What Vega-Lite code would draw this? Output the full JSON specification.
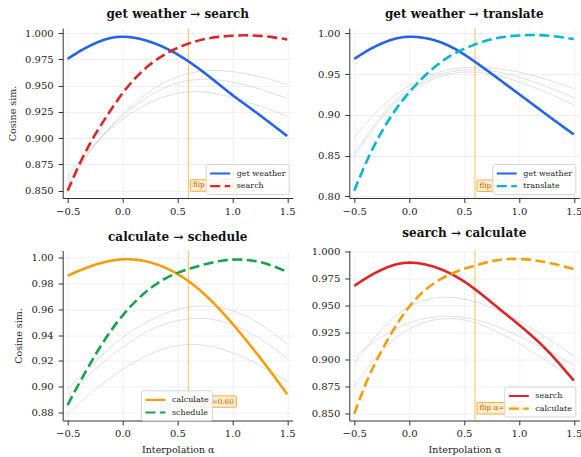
{
 "$schema": "https://vega.github.io/schema/vega-lite/v6.json",
 "autosize": {"type": "none"},
 "padding": {"left": 62.7, "top": 28, "right": 518.3, "bottom": 429},
 "background": "white",
 "datasets": {
  "flips": [
   {"panel": "p1", "alpha": 0.6, "sim": 0.855, "label": "flip α=0.60"},
   {"panel": "p2", "alpha": 0.6, "sim": 0.813, "label": "flip α=0.60"},
   {"panel": "p3", "alpha": 0.6, "sim": 0.8884, "label": "flip α=0.60"},
   {"panel": "p4", "alpha": 0.6, "sim": 0.855, "label": "flip α=0.60"}
  ],
  "curves": [
   {"panel":"p1","kind":"main","series":"get weather","alpha":-0.5,"sim":0.9755},
   {"panel":"p1","kind":"main","series":"get weather","alpha":-0.375,"sim":0.9838},
   {"panel":"p1","kind":"main","series":"get weather","alpha":-0.25,"sim":0.9905},
   {"panel":"p1","kind":"main","series":"get weather","alpha":-0.125,"sim":0.9955},
   {"panel":"p1","kind":"main","series":"get weather","alpha":0,"sim":0.997},
   {"panel":"p1","kind":"main","series":"get weather","alpha":0.125,"sim":0.9955},
   {"panel":"p1","kind":"main","series":"get weather","alpha":0.25,"sim":0.992},
   {"panel":"p1","kind":"main","series":"get weather","alpha":0.375,"sim":0.9868},
   {"panel":"p1","kind":"main","series":"get weather","alpha":0.5,"sim":0.980},
   {"panel":"p1","kind":"main","series":"get weather","alpha":0.625,"sim":0.9715},
   {"panel":"p1","kind":"main","series":"get weather","alpha":0.75,"sim":0.962},
   {"panel":"p1","kind":"main","series":"get weather","alpha":0.875,"sim":0.9515},
   {"panel":"p1","kind":"main","series":"get weather","alpha":1.0,"sim":0.941},
   {"panel":"p1","kind":"main","series":"get weather","alpha":1.125,"sim":0.9315},
   {"panel":"p1","kind":"main","series":"get weather","alpha":1.25,"sim":0.922},
   {"panel":"p1","kind":"main","series":"get weather","alpha":1.375,"sim":0.912},
   {"panel":"p1","kind":"main","series":"get weather","alpha":1.5,"sim":0.902},
   {"panel":"p1","kind":"main","series":"search","alpha":-0.5,"sim":0.850},
   {"panel":"p1","kind":"main","series":"search","alpha":-0.375,"sim":0.880},
   {"panel":"p1","kind":"main","series":"search","alpha":-0.25,"sim":0.904},
   {"panel":"p1","kind":"main","series":"search","alpha":-0.125,"sim":0.924},
   {"panel":"p1","kind":"main","series":"search","alpha":0,"sim":0.9435},
   {"panel":"p1","kind":"main","series":"search","alpha":0.125,"sim":0.9585},
   {"panel":"p1","kind":"main","series":"search","alpha":0.25,"sim":0.9705},
   {"panel":"p1","kind":"main","series":"search","alpha":0.375,"sim":0.9795},
   {"panel":"p1","kind":"main","series":"search","alpha":0.5,"sim":0.986},
   {"panel":"p1","kind":"main","series":"search","alpha":0.625,"sim":0.991},
   {"panel":"p1","kind":"main","series":"search","alpha":0.75,"sim":0.9945},
   {"panel":"p1","kind":"main","series":"search","alpha":0.875,"sim":0.9965},
   {"panel":"p1","kind":"main","series":"search","alpha":1.0,"sim":0.9975},
   {"panel":"p1","kind":"main","series":"search","alpha":1.125,"sim":0.998},
   {"panel":"p1","kind":"main","series":"search","alpha":1.25,"sim":0.9975},
   {"panel":"p1","kind":"main","series":"search","alpha":1.375,"sim":0.996},
   {"panel":"p1","kind":"main","series":"search","alpha":1.5,"sim":0.994},
   {"panel":"p1","kind":"other","series":"o1","alpha":-0.5,"sim":0.856},
   {"panel":"p1","kind":"other","series":"o1","alpha":-0.25,"sim":0.895},
   {"panel":"p1","kind":"other","series":"o1","alpha":0,"sim":0.924},
   {"panel":"p1","kind":"other","series":"o1","alpha":0.25,"sim":0.946},
   {"panel":"p1","kind":"other","series":"o1","alpha":0.5,"sim":0.960},
   {"panel":"p1","kind":"other","series":"o1","alpha":0.75,"sim":0.965},
   {"panel":"p1","kind":"other","series":"o1","alpha":1.0,"sim":0.964},
   {"panel":"p1","kind":"other","series":"o1","alpha":1.25,"sim":0.959},
   {"panel":"p1","kind":"other","series":"o1","alpha":1.5,"sim":0.951},
   {"panel":"p1","kind":"other","series":"o2","alpha":-0.5,"sim":0.859},
   {"panel":"p1","kind":"other","series":"o2","alpha":-0.25,"sim":0.896},
   {"panel":"p1","kind":"other","series":"o2","alpha":0,"sim":0.922},
   {"panel":"p1","kind":"other","series":"o2","alpha":0.25,"sim":0.942},
   {"panel":"p1","kind":"other","series":"o2","alpha":0.5,"sim":0.954},
   {"panel":"p1","kind":"other","series":"o2","alpha":0.75,"sim":0.957},
   {"panel":"p1","kind":"other","series":"o2","alpha":1.0,"sim":0.954},
   {"panel":"p1","kind":"other","series":"o2","alpha":1.25,"sim":0.947},
   {"panel":"p1","kind":"other","series":"o2","alpha":1.5,"sim":0.938},
   {"panel":"p1","kind":"other","series":"o3","alpha":-0.5,"sim":0.8636},
   {"panel":"p1","kind":"other","series":"o3","alpha":-0.25,"sim":0.897},
   {"panel":"p1","kind":"other","series":"o3","alpha":0,"sim":0.919},
   {"panel":"p1","kind":"other","series":"o3","alpha":0.25,"sim":0.935},
   {"panel":"p1","kind":"other","series":"o3","alpha":0.5,"sim":0.944},
   {"panel":"p1","kind":"other","series":"o3","alpha":0.75,"sim":0.945},
   {"panel":"p1","kind":"other","series":"o3","alpha":1.0,"sim":0.939},
   {"panel":"p1","kind":"other","series":"o3","alpha":1.25,"sim":0.931},
   {"panel":"p1","kind":"other","series":"o3","alpha":1.5,"sim":0.921},

   {"panel":"p2","kind":"main","series":"get weather","alpha":-0.5,"sim":0.9686},
   {"panel":"p2","kind":"main","series":"get weather","alpha":-0.375,"sim":0.9795},
   {"panel":"p2","kind":"main","series":"get weather","alpha":-0.25,"sim":0.9878},
   {"panel":"p2","kind":"main","series":"get weather","alpha":-0.125,"sim":0.9942},
   {"panel":"p2","kind":"main","series":"get weather","alpha":0,"sim":0.9963},
   {"panel":"p2","kind":"main","series":"get weather","alpha":0.125,"sim":0.995},
   {"panel":"p2","kind":"main","series":"get weather","alpha":0.25,"sim":0.9912},
   {"panel":"p2","kind":"main","series":"get weather","alpha":0.375,"sim":0.9843},
   {"panel":"p2","kind":"main","series":"get weather","alpha":0.5,"sim":0.9745},
   {"panel":"p2","kind":"main","series":"get weather","alpha":0.625,"sim":0.9628},
   {"panel":"p2","kind":"main","series":"get weather","alpha":0.75,"sim":0.9505},
   {"panel":"p2","kind":"main","series":"get weather","alpha":0.875,"sim":0.938},
   {"panel":"p2","kind":"main","series":"get weather","alpha":1.0,"sim":0.9255},
   {"panel":"p2","kind":"main","series":"get weather","alpha":1.125,"sim":0.913},
   {"panel":"p2","kind":"main","series":"get weather","alpha":1.25,"sim":0.9005},
   {"panel":"p2","kind":"main","series":"get weather","alpha":1.375,"sim":0.888},
   {"panel":"p2","kind":"main","series":"get weather","alpha":1.5,"sim":0.876},
   {"panel":"p2","kind":"main","series":"translate","alpha":-0.5,"sim":0.807},
   {"panel":"p2","kind":"main","series":"translate","alpha":-0.375,"sim":0.848},
   {"panel":"p2","kind":"main","series":"translate","alpha":-0.25,"sim":0.880},
   {"panel":"p2","kind":"main","series":"translate","alpha":-0.125,"sim":0.907},
   {"panel":"p2","kind":"main","series":"translate","alpha":0,"sim":0.928},
   {"panel":"p2","kind":"main","series":"translate","alpha":0.125,"sim":0.946},
   {"panel":"p2","kind":"main","series":"translate","alpha":0.25,"sim":0.961},
   {"panel":"p2","kind":"main","series":"translate","alpha":0.375,"sim":0.973},
   {"panel":"p2","kind":"main","series":"translate","alpha":0.5,"sim":0.981},
   {"panel":"p2","kind":"main","series":"translate","alpha":0.625,"sim":0.988},
   {"panel":"p2","kind":"main","series":"translate","alpha":0.75,"sim":0.993},
   {"panel":"p2","kind":"main","series":"translate","alpha":0.875,"sim":0.996},
   {"panel":"p2","kind":"main","series":"translate","alpha":1.0,"sim":0.9975},
   {"panel":"p2","kind":"main","series":"translate","alpha":1.125,"sim":0.998},
   {"panel":"p2","kind":"main","series":"translate","alpha":1.25,"sim":0.9975},
   {"panel":"p2","kind":"main","series":"translate","alpha":1.375,"sim":0.9955},
   {"panel":"p2","kind":"main","series":"translate","alpha":1.5,"sim":0.993},
   {"panel":"p2","kind":"other","series":"o1","alpha":-0.5,"sim":0.873},
   {"panel":"p2","kind":"other","series":"o1","alpha":-0.25,"sim":0.912},
   {"panel":"p2","kind":"other","series":"o1","alpha":0,"sim":0.938},
   {"panel":"p2","kind":"other","series":"o1","alpha":0.25,"sim":0.953},
   {"panel":"p2","kind":"other","series":"o1","alpha":0.5,"sim":0.959},
   {"panel":"p2","kind":"other","series":"o1","alpha":0.75,"sim":0.958},
   {"panel":"p2","kind":"other","series":"o1","alpha":1.0,"sim":0.953},
   {"panel":"p2","kind":"other","series":"o1","alpha":1.25,"sim":0.944},
   {"panel":"p2","kind":"other","series":"o1","alpha":1.5,"sim":0.932},
   {"panel":"p2","kind":"other","series":"o2","alpha":-0.5,"sim":0.853},
   {"panel":"p2","kind":"other","series":"o2","alpha":-0.25,"sim":0.902},
   {"panel":"p2","kind":"other","series":"o2","alpha":0,"sim":0.934},
   {"panel":"p2","kind":"other","series":"o2","alpha":0.25,"sim":0.950},
   {"panel":"p2","kind":"other","series":"o2","alpha":0.5,"sim":0.956},
   {"panel":"p2","kind":"other","series":"o2","alpha":0.75,"sim":0.955},
   {"panel":"p2","kind":"other","series":"o2","alpha":1.0,"sim":0.947},
   {"panel":"p2","kind":"other","series":"o2","alpha":1.25,"sim":0.935},
   {"panel":"p2","kind":"other","series":"o2","alpha":1.5,"sim":0.921},
   {"panel":"p2","kind":"other","series":"o3","alpha":-0.5,"sim":0.849},
   {"panel":"p2","kind":"other","series":"o3","alpha":-0.25,"sim":0.899},
   {"panel":"p2","kind":"other","series":"o3","alpha":0,"sim":0.931},
   {"panel":"p2","kind":"other","series":"o3","alpha":0.25,"sim":0.947},
   {"panel":"p2","kind":"other","series":"o3","alpha":0.5,"sim":0.954},
   {"panel":"p2","kind":"other","series":"o3","alpha":0.75,"sim":0.951},
   {"panel":"p2","kind":"other","series":"o3","alpha":1.0,"sim":0.941},
   {"panel":"p2","kind":"other","series":"o3","alpha":1.25,"sim":0.928},
   {"panel":"p2","kind":"other","series":"o3","alpha":1.5,"sim":0.912},

   {"panel":"p3","kind":"main","series":"calculate","alpha":-0.5,"sim":0.986},
   {"panel":"p3","kind":"main","series":"calculate","alpha":-0.375,"sim":0.9907},
   {"panel":"p3","kind":"main","series":"calculate","alpha":-0.25,"sim":0.9947},
   {"panel":"p3","kind":"main","series":"calculate","alpha":-0.125,"sim":0.9976},
   {"panel":"p3","kind":"main","series":"calculate","alpha":0,"sim":0.999},
   {"panel":"p3","kind":"main","series":"calculate","alpha":0.125,"sim":0.9987},
   {"panel":"p3","kind":"main","series":"calculate","alpha":0.25,"sim":0.9967},
   {"panel":"p3","kind":"main","series":"calculate","alpha":0.375,"sim":0.993},
   {"panel":"p3","kind":"main","series":"calculate","alpha":0.5,"sim":0.9877},
   {"panel":"p3","kind":"main","series":"calculate","alpha":0.625,"sim":0.9806},
   {"panel":"p3","kind":"main","series":"calculate","alpha":0.75,"sim":0.9716},
   {"panel":"p3","kind":"main","series":"calculate","alpha":0.875,"sim":0.961},
   {"panel":"p3","kind":"main","series":"calculate","alpha":1.0,"sim":0.949},
   {"panel":"p3","kind":"main","series":"calculate","alpha":1.125,"sim":0.9362},
   {"panel":"p3","kind":"main","series":"calculate","alpha":1.25,"sim":0.9228},
   {"panel":"p3","kind":"main","series":"calculate","alpha":1.375,"sim":0.9087},
   {"panel":"p3","kind":"main","series":"calculate","alpha":1.5,"sim":0.894},
   {"panel":"p3","kind":"main","series":"schedule","alpha":-0.5,"sim":0.8857},
   {"panel":"p3","kind":"main","series":"schedule","alpha":-0.375,"sim":0.906},
   {"panel":"p3","kind":"main","series":"schedule","alpha":-0.25,"sim":0.9245},
   {"panel":"p3","kind":"main","series":"schedule","alpha":-0.125,"sim":0.9415},
   {"panel":"p3","kind":"main","series":"schedule","alpha":0,"sim":0.9555},
   {"panel":"p3","kind":"main","series":"schedule","alpha":0.125,"sim":0.967},
   {"panel":"p3","kind":"main","series":"schedule","alpha":0.25,"sim":0.9765},
   {"panel":"p3","kind":"main","series":"schedule","alpha":0.375,"sim":0.9835},
   {"panel":"p3","kind":"main","series":"schedule","alpha":0.5,"sim":0.9885},
   {"panel":"p3","kind":"main","series":"schedule","alpha":0.625,"sim":0.992},
   {"panel":"p3","kind":"main","series":"schedule","alpha":0.75,"sim":0.995},
   {"panel":"p3","kind":"main","series":"schedule","alpha":0.875,"sim":0.9975},
   {"panel":"p3","kind":"main","series":"schedule","alpha":1.0,"sim":0.9988},
   {"panel":"p3","kind":"main","series":"schedule","alpha":1.125,"sim":0.9985},
   {"panel":"p3","kind":"main","series":"schedule","alpha":1.25,"sim":0.997},
   {"panel":"p3","kind":"main","series":"schedule","alpha":1.375,"sim":0.9935},
   {"panel":"p3","kind":"main","series":"schedule","alpha":1.5,"sim":0.989},
   {"panel":"p3","kind":"other","series":"o1","alpha":-0.5,"sim":0.898},
   {"panel":"p3","kind":"other","series":"o1","alpha":-0.25,"sim":0.920},
   {"panel":"p3","kind":"other","series":"o1","alpha":0,"sim":0.939},
   {"panel":"p3","kind":"other","series":"o1","alpha":0.25,"sim":0.952},
   {"panel":"p3","kind":"other","series":"o1","alpha":0.5,"sim":0.961},
   {"panel":"p3","kind":"other","series":"o1","alpha":0.75,"sim":0.9635},
   {"panel":"p3","kind":"other","series":"o1","alpha":1.0,"sim":0.960},
   {"panel":"p3","kind":"other","series":"o1","alpha":1.25,"sim":0.950},
   {"panel":"p3","kind":"other","series":"o1","alpha":1.5,"sim":0.933},
   {"panel":"p3","kind":"other","series":"o2","alpha":-0.5,"sim":0.893},
   {"panel":"p3","kind":"other","series":"o2","alpha":-0.25,"sim":0.914},
   {"panel":"p3","kind":"other","series":"o2","alpha":0,"sim":0.931},
   {"panel":"p3","kind":"other","series":"o2","alpha":0.25,"sim":0.945},
   {"panel":"p3","kind":"other","series":"o2","alpha":0.5,"sim":0.952},
   {"panel":"p3","kind":"other","series":"o2","alpha":0.75,"sim":0.954},
   {"panel":"p3","kind":"other","series":"o2","alpha":1.0,"sim":0.949},
   {"panel":"p3","kind":"other","series":"o2","alpha":1.25,"sim":0.938},
   {"panel":"p3","kind":"other","series":"o2","alpha":1.5,"sim":0.922},
   {"panel":"p3","kind":"other","series":"o3","alpha":-0.5,"sim":0.879},
   {"panel":"p3","kind":"other","series":"o3","alpha":-0.25,"sim":0.898},
   {"panel":"p3","kind":"other","series":"o3","alpha":0,"sim":0.914},
   {"panel":"p3","kind":"other","series":"o3","alpha":0.25,"sim":0.926},
   {"panel":"p3","kind":"other","series":"o3","alpha":0.5,"sim":0.933},
   {"panel":"p3","kind":"other","series":"o3","alpha":0.75,"sim":0.933},
   {"panel":"p3","kind":"other","series":"o3","alpha":1.0,"sim":0.927},
   {"panel":"p3","kind":"other","series":"o3","alpha":1.25,"sim":0.917},
   {"panel":"p3","kind":"other","series":"o3","alpha":1.5,"sim":0.904},

   {"panel":"p4","kind":"main","series":"search","alpha":-0.5,"sim":0.968},
   {"panel":"p4","kind":"main","series":"search","alpha":-0.375,"sim":0.9765},
   {"panel":"p4","kind":"main","series":"search","alpha":-0.25,"sim":0.9832},
   {"panel":"p4","kind":"main","series":"search","alpha":-0.125,"sim":0.9882},
   {"panel":"p4","kind":"main","series":"search","alpha":0,"sim":0.990},
   {"panel":"p4","kind":"main","series":"search","alpha":0.125,"sim":0.9886},
   {"panel":"p4","kind":"main","series":"search","alpha":0.25,"sim":0.9852},
   {"panel":"p4","kind":"main","series":"search","alpha":0.375,"sim":0.9798},
   {"panel":"p4","kind":"main","series":"search","alpha":0.5,"sim":0.9725},
   {"panel":"p4","kind":"main","series":"search","alpha":0.625,"sim":0.9632},
   {"panel":"p4","kind":"main","series":"search","alpha":0.75,"sim":0.9528},
   {"panel":"p4","kind":"main","series":"search","alpha":0.875,"sim":0.9424},
   {"panel":"p4","kind":"main","series":"search","alpha":1.0,"sim":0.9322},
   {"panel":"p4","kind":"main","series":"search","alpha":1.125,"sim":0.9215},
   {"panel":"p4","kind":"main","series":"search","alpha":1.25,"sim":0.9095},
   {"panel":"p4","kind":"main","series":"search","alpha":1.375,"sim":0.8955},
   {"panel":"p4","kind":"main","series":"search","alpha":1.5,"sim":0.8805},
   {"panel":"p4","kind":"main","series":"calculate","alpha":-0.5,"sim":0.850},
   {"panel":"p4","kind":"main","series":"calculate","alpha":-0.375,"sim":0.884},
   {"panel":"p4","kind":"main","series":"calculate","alpha":-0.25,"sim":0.9085},
   {"panel":"p4","kind":"main","series":"calculate","alpha":-0.125,"sim":0.931},
   {"panel":"p4","kind":"main","series":"calculate","alpha":0,"sim":0.9495},
   {"panel":"p4","kind":"main","series":"calculate","alpha":0.125,"sim":0.963},
   {"panel":"p4","kind":"main","series":"calculate","alpha":0.25,"sim":0.9725},
   {"panel":"p4","kind":"main","series":"calculate","alpha":0.375,"sim":0.979},
   {"panel":"p4","kind":"main","series":"calculate","alpha":0.5,"sim":0.984},
   {"panel":"p4","kind":"main","series":"calculate","alpha":0.625,"sim":0.9875},
   {"panel":"p4","kind":"main","series":"calculate","alpha":0.75,"sim":0.991},
   {"panel":"p4","kind":"main","series":"calculate","alpha":0.875,"sim":0.993},
   {"panel":"p4","kind":"main","series":"calculate","alpha":1.0,"sim":0.993},
   {"panel":"p4","kind":"main","series":"calculate","alpha":1.125,"sim":0.992},
   {"panel":"p4","kind":"main","series":"calculate","alpha":1.25,"sim":0.990},
   {"panel":"p4","kind":"main","series":"calculate","alpha":1.375,"sim":0.987},
   {"panel":"p4","kind":"main","series":"calculate","alpha":1.5,"sim":0.9835},
   {"panel":"p4","kind":"other","series":"o1","alpha":-0.5,"sim":0.896},
   {"panel":"p4","kind":"other","series":"o1","alpha":-0.25,"sim":0.930},
   {"panel":"p4","kind":"other","series":"o1","alpha":0,"sim":0.951},
   {"panel":"p4","kind":"other","series":"o1","alpha":0.25,"sim":0.9585},
   {"panel":"p4","kind":"other","series":"o1","alpha":0.5,"sim":0.957},
   {"panel":"p4","kind":"other","series":"o1","alpha":0.75,"sim":0.949},
   {"panel":"p4","kind":"other","series":"o1","alpha":1.0,"sim":0.936},
   {"panel":"p4","kind":"other","series":"o1","alpha":1.25,"sim":0.921},
   {"panel":"p4","kind":"other","series":"o1","alpha":1.5,"sim":0.9035},
   {"panel":"p4","kind":"other","series":"o2","alpha":-0.5,"sim":0.9025},
   {"panel":"p4","kind":"other","series":"o2","alpha":-0.25,"sim":0.922},
   {"panel":"p4","kind":"other","series":"o2","alpha":0,"sim":0.935},
   {"panel":"p4","kind":"other","series":"o2","alpha":0.25,"sim":0.9405},
   {"panel":"p4","kind":"other","series":"o2","alpha":0.5,"sim":0.940},
   {"panel":"p4","kind":"other","series":"o2","alpha":0.75,"sim":0.933},
   {"panel":"p4","kind":"other","series":"o2","alpha":1.0,"sim":0.922},
   {"panel":"p4","kind":"other","series":"o2","alpha":1.25,"sim":0.909},
   {"panel":"p4","kind":"other","series":"o2","alpha":1.5,"sim":0.895},
   {"panel":"p4","kind":"other","series":"o3","alpha":-0.5,"sim":0.876},
   {"panel":"p4","kind":"other","series":"o3","alpha":-0.25,"sim":0.910},
   {"panel":"p4","kind":"other","series":"o3","alpha":0,"sim":0.930},
   {"panel":"p4","kind":"other","series":"o3","alpha":0.25,"sim":0.9385},
   {"panel":"p4","kind":"other","series":"o3","alpha":0.5,"sim":0.938},
   {"panel":"p4","kind":"other","series":"o3","alpha":0.75,"sim":0.929},
   {"panel":"p4","kind":"other","series":"o3","alpha":1.0,"sim":0.915},
   {"panel":"p4","kind":"other","series":"o3","alpha":1.25,"sim":0.899},
   {"panel":"p4","kind":"other","series":"o3","alpha":1.5,"sim":0.882}
  ]
 },
 "columns": 2,
 "spacing": {"row": 52.5, "column": 56.6},
 "bounds": "flush",
 "resolve": {
  "scale": {"x": "independent", "y": "independent", "color": "independent", "strokeDash": "independent"},
  "axis": {"x": "independent", "y": "independent"},
  "legend": {"color": "independent", "strokeDash": "independent"}
 },
 "concat": [
  {
   "width": 230, "height": 170,
   "title": "get weather → search",
   "layer": [
    {"data": {"name": "curves"}, "transform": [{"filter": "datum.panel === 'p1' && datum.kind === 'other'"}],
     "mark": {"type": "line", "color": "#cfcfcf", "strokeWidth": 0.9, "opacity": 0.75, "interpolate": "basis"},
     "encoding": {
      "x": {"field": "alpha", "type": "quantitative", "title": null, "scale": {"domain": [-0.545, 1.55], "nice": false, "zero": false}, "axis": {"values": [-0.5, 0, 0.5, 1, 1.5], "format": ".1f", "tickCount": 20}},
      "y": {"field": "sim", "type": "quantitative", "title": "Cosine sim.", "scale": {"domain": [0.8431, 1.0048], "nice": false, "zero": false}, "axis": {"values": [0.85, 0.875, 0.9, 0.925, 0.95, 0.975, 1.0], "format": ".3f", "tickCount": 20}},
      "detail": {"field": "series", "type": "nominal"}}},
    {"data": {"name": "flips"}, "transform": [{"filter": "datum.panel === 'p1'"}],
     "mark": {"type": "rule", "color": "#f59e0b", "strokeWidth": 1.2, "opacity": 0.55},
     "encoding": {"x": {"field": "alpha", "type": "quantitative", "title": null}}},
    {"data": {"name": "curves"}, "transform": [{"filter": "datum.panel === 'p1' && datum.kind === 'main'"}],
     "mark": {"type": "line", "strokeWidth": 2.6, "interpolate": "basis"},
     "encoding": {
      "x": {"field": "alpha", "type": "quantitative", "title": null},
      "y": {"field": "sim", "type": "quantitative", "title": "Cosine sim."},
      "color": {"field": "series", "type": "nominal", "scale": {"domain": ["get weather", "search"], "range": ["#2563eb", "#dc2626"]}, "legend": {"title": null, "orient": "bottom-right", "offset": 4}},
      "strokeDash": {"field": "series", "type": "nominal", "scale": {"domain": ["get weather", "search"], "range": [[1, 0], [10, 4.5]]}, "legend": {"title": null, "orient": "bottom-right", "offset": 4}}}},
    {"data": {"name": "flips"}, "transform": [{"filter": "datum.panel === 'p1'"}],
     "mark": {"type": "rect", "width": 46, "height": 11.5, "xOffset": 25, "fill": "#fdecc8", "fillOpacity": 0.95, "stroke": "#f0a020", "strokeWidth": 0.8, "cornerRadius": 1},
     "encoding": {"x": {"field": "alpha", "type": "quantitative", "title": null}, "y": {"field": "sim", "type": "quantitative", "title": "Cosine sim."}}},
    {"data": {"name": "flips"}, "transform": [{"filter": "datum.panel === 'p1'"}],
     "mark": {"type": "text", "align": "left", "baseline": "middle", "dx": 4.5, "fontSize": 7.2, "color": "#b45f06"},
     "encoding": {"x": {"field": "alpha", "type": "quantitative", "title": null}, "y": {"field": "sim", "type": "quantitative", "title": "Cosine sim."}, "text": {"field": "label", "type": "nominal"}}}
   ]
  },
  {
   "width": 230, "height": 170,
   "title": "get weather → translate",
   "layer": [
    {"data": {"name": "curves"}, "transform": [{"filter": "datum.panel === 'p2' && datum.kind === 'other'"}],
     "mark": {"type": "line", "color": "#cfcfcf", "strokeWidth": 0.9, "opacity": 0.75, "interpolate": "basis"},
     "encoding": {
      "x": {"field": "alpha", "type": "quantitative", "title": null, "scale": {"domain": [-0.545, 1.55], "nice": false, "zero": false}, "axis": {"values": [-0.5, 0, 0.5, 1, 1.5], "format": ".1f", "tickCount": 20}},
      "y": {"field": "sim", "type": "quantitative", "title": null, "scale": {"domain": [0.798, 1.0065], "nice": false, "zero": false}, "axis": {"values": [0.8, 0.85, 0.9, 0.95, 1.0], "format": ".2f", "tickCount": 20}},
      "detail": {"field": "series", "type": "nominal"}}},
    {"data": {"name": "flips"}, "transform": [{"filter": "datum.panel === 'p2'"}],
     "mark": {"type": "rule", "color": "#f59e0b", "strokeWidth": 1.2, "opacity": 0.55},
     "encoding": {"x": {"field": "alpha", "type": "quantitative", "title": null}}},
    {"data": {"name": "curves"}, "transform": [{"filter": "datum.panel === 'p2' && datum.kind === 'main'"}],
     "mark": {"type": "line", "strokeWidth": 2.6, "interpolate": "basis"},
     "encoding": {
      "x": {"field": "alpha", "type": "quantitative", "title": null},
      "y": {"field": "sim", "type": "quantitative", "title": null},
      "color": {"field": "series", "type": "nominal", "scale": {"domain": ["get weather", "translate"], "range": ["#2563eb", "#06b6d4"]}, "legend": {"title": null, "orient": "bottom-right", "offset": 4}},
      "strokeDash": {"field": "series", "type": "nominal", "scale": {"domain": ["get weather", "translate"], "range": [[1, 0], [10, 4.5]]}, "legend": {"title": null, "orient": "bottom-right", "offset": 4}}}},
    {"data": {"name": "flips"}, "transform": [{"filter": "datum.panel === 'p2'"}],
     "mark": {"type": "rect", "width": 46, "height": 11.5, "xOffset": 25, "fill": "#fdecc8", "fillOpacity": 0.95, "stroke": "#f0a020", "strokeWidth": 0.8, "cornerRadius": 1},
     "encoding": {"x": {"field": "alpha", "type": "quantitative", "title": null}, "y": {"field": "sim", "type": "quantitative", "title": null}}},
    {"data": {"name": "flips"}, "transform": [{"filter": "datum.panel === 'p2'"}],
     "mark": {"type": "text", "align": "left", "baseline": "middle", "dx": 4.5, "fontSize": 7.2, "color": "#b45f06"},
     "encoding": {"x": {"field": "alpha", "type": "quantitative", "title": null}, "y": {"field": "sim", "type": "quantitative", "title": null}, "text": {"field": "label", "type": "nominal"}}}
   ]
  },
  {
   "width": 230, "height": 170,
   "title": "calculate → schedule",
   "layer": [
    {"data": {"name": "curves"}, "transform": [{"filter": "datum.panel === 'p3' && datum.kind === 'other'"}],
     "mark": {"type": "line", "color": "#cfcfcf", "strokeWidth": 0.9, "opacity": 0.75, "interpolate": "basis"},
     "encoding": {
      "x": {"field": "alpha", "type": "quantitative", "title": "Interpolation α", "scale": {"domain": [-0.545, 1.55], "nice": false, "zero": false}, "axis": {"values": [-0.5, 0, 0.5, 1, 1.5], "format": ".1f", "tickCount": 20}},
      "y": {"field": "sim", "type": "quantitative", "title": "Cosine sim.", "scale": {"domain": [0.8737, 1.0056], "nice": false, "zero": false}, "axis": {"values": [0.88, 0.9, 0.92, 0.94, 0.96, 0.98, 1.0], "format": ".2f", "tickCount": 20}},
      "detail": {"field": "series", "type": "nominal"}}},
    {"data": {"name": "flips"}, "transform": [{"filter": "datum.panel === 'p3'"}],
     "mark": {"type": "rule", "color": "#f59e0b", "strokeWidth": 1.2, "opacity": 0.55},
     "encoding": {"x": {"field": "alpha", "type": "quantitative", "title": "Interpolation α"}}},
    {"data": {"name": "curves"}, "transform": [{"filter": "datum.panel === 'p3' && datum.kind === 'main'"}],
     "mark": {"type": "line", "strokeWidth": 2.6, "interpolate": "basis"},
     "encoding": {
      "x": {"field": "alpha", "type": "quantitative", "title": "Interpolation α"},
      "y": {"field": "sim", "type": "quantitative", "title": "Cosine sim."},
      "color": {"field": "series", "type": "nominal", "scale": {"domain": ["calculate", "schedule"], "range": ["#f59e0b", "#16a34a"]}, "legend": {"title": null, "orient": "none", "legendX": 78.2, "legendY": 139.8}},
      "strokeDash": {"field": "series", "type": "nominal", "scale": {"domain": ["calculate", "schedule"], "range": [[1, 0], [10, 4.5]]}, "legend": {"title": null, "orient": "none", "legendX": 78.2, "legendY": 139.8}}}},
    {"data": {"name": "flips"}, "transform": [{"filter": "datum.panel === 'p3'"}],
     "mark": {"type": "rect", "width": 46, "height": 11.5, "xOffset": 25, "fill": "#fdecc8", "fillOpacity": 0.95, "stroke": "#f0a020", "strokeWidth": 0.8, "cornerRadius": 1},
     "encoding": {"x": {"field": "alpha", "type": "quantitative", "title": "Interpolation α"}, "y": {"field": "sim", "type": "quantitative", "title": "Cosine sim."}}},
    {"data": {"name": "flips"}, "transform": [{"filter": "datum.panel === 'p3'"}],
     "mark": {"type": "text", "align": "left", "baseline": "middle", "dx": 4.5, "fontSize": 7.2, "color": "#b45f06"},
     "encoding": {"x": {"field": "alpha", "type": "quantitative", "title": "Interpolation α"}, "y": {"field": "sim", "type": "quantitative", "title": "Cosine sim."}, "text": {"field": "label", "type": "nominal"}}}
   ]
  },
  {
   "width": 230, "height": 170,
   "title": "search → calculate",
   "layer": [
    {"data": {"name": "curves"}, "transform": [{"filter": "datum.panel === 'p4' && datum.kind === 'other'"}],
     "mark": {"type": "line", "color": "#cfcfcf", "strokeWidth": 0.9, "opacity": 0.75, "interpolate": "basis"},
     "encoding": {
      "x": {"field": "alpha", "type": "quantitative", "title": "Interpolation α", "scale": {"domain": [-0.545, 1.55], "nice": false, "zero": false}, "axis": {"values": [-0.5, 0, 0.5, 1, 1.5], "format": ".1f", "tickCount": 20}},
      "y": {"field": "sim", "type": "quantitative", "title": null, "scale": {"domain": [0.8437, 1.0007], "nice": false, "zero": false}, "axis": {"values": [0.85, 0.875, 0.9, 0.925, 0.95, 0.975, 1.0], "format": ".3f", "tickCount": 20}},
      "detail": {"field": "series", "type": "nominal"}}},
    {"data": {"name": "flips"}, "transform": [{"filter": "datum.panel === 'p4'"}],
     "mark": {"type": "rule", "color": "#f59e0b", "strokeWidth": 1.2, "opacity": 0.55},
     "encoding": {"x": {"field": "alpha", "type": "quantitative", "title": "Interpolation α"}}},
    {"data": {"name": "curves"}, "transform": [{"filter": "datum.panel === 'p4' && datum.kind === 'main'"}],
     "mark": {"type": "line", "strokeWidth": 2.6, "interpolate": "basis"},
     "encoding": {
      "x": {"field": "alpha", "type": "quantitative", "title": "Interpolation α"},
      "y": {"field": "sim", "type": "quantitative", "title": null},
      "color": {"field": "series", "type": "nominal", "scale": {"domain": ["search", "calculate"], "range": ["#dc2626", "#f59e0b"]}, "legend": {"title": null, "orient": "bottom-right", "offset": 4}},
      "strokeDash": {"field": "series", "type": "nominal", "scale": {"domain": ["search", "calculate"], "range": [[1, 0], [10, 4.5]]}, "legend": {"title": null, "orient": "bottom-right", "offset": 4}}}},
    {"data": {"name": "flips"}, "transform": [{"filter": "datum.panel === 'p4'"}],
     "mark": {"type": "rect", "width": 46, "height": 11.5, "xOffset": 25, "fill": "#fdecc8", "fillOpacity": 0.95, "stroke": "#f0a020", "strokeWidth": 0.8, "cornerRadius": 1},
     "encoding": {"x": {"field": "alpha", "type": "quantitative", "title": "Interpolation α"}, "y": {"field": "sim", "type": "quantitative", "title": null}}},
    {"data": {"name": "flips"}, "transform": [{"filter": "datum.panel === 'p4'"}],
     "mark": {"type": "text", "align": "left", "baseline": "middle", "dx": 4.5, "fontSize": 7.2, "color": "#b45f06"},
     "encoding": {"x": {"field": "alpha", "type": "quantitative", "title": "Interpolation α"}, "y": {"field": "sim", "type": "quantitative", "title": null}, "text": {"field": "label", "type": "nominal"}}}
   ]
  }
 ],
 "config": {
  "font": "DejaVu Serif",
  "view": {"stroke": null},
  "title": {"font": "DejaVu Serif", "fontSize": 12, "fontWeight": "bold", "color": "#111111", "offset": 6},
  "axis": {
   "labelFont": "DejaVu Serif", "labelFontSize": 10, "labelColor": "#222222",
   "titleFont": "DejaVu Serif", "titleFontSize": 9.5, "titleFontWeight": "normal", "titleColor": "#222222",
   "domainColor": "#333333", "domainWidth": 1, "tickColor": "#333333", "tickSize": 4.5, "tickWidth": 1,
   "gridColor": "#ececec", "gridWidth": 0.8, "labelFlush": false, "labelOverlap": false
  },
  "axisX": {"labelPadding": 3.5, "titlePadding": 5.5},
  "axisY": {"labelPadding": 5, "titlePadding": 7},
  "legend": {
   "labelFont": "DejaVu Serif", "labelFontSize": 8, "labelColor": "#222222",
   "fillColor": "rgba(255,255,255,0.85)", "strokeColor": "#d4d4d4", "cornerRadius": 2, "padding": 3,
   "symbolType": "M-1,0L3,0", "symbolSize": 100, "symbolStrokeWidth": 2.2, "symbolFillColor": "transparent",
   "labelOffset": 15, "rowPadding": 1.7
  }
 }
}
